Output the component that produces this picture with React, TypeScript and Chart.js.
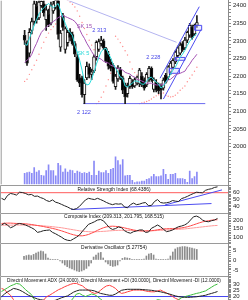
import React, { useEffect, useRef } from 'react';
import { Chart, registerables } from 'chart.js';

Chart.register(...registerables);

const FONT = '"Liberation Sans", Arial, sans-serif';

// ---------------- data ----------------
const openP = [2316,2295,2265,2330,2355,2398,2365,2400,2405,2360, 2375,2350,2385,2395,2420,2282,2372,2276,2295,2325, 2318,2292,2254,2195,2195,2147,2195,2225,2205,2215, 2255,2276,2292,2300,2278,2262,2240,2230,2170,2192, 2218,2195,2175,2150,2170,2182,2172,2180,2178,2200, 2190,2175,2195,2222,2162,2182,2175,2170,2166,2203, 2197,2212,2225,2240,2258,2265,2292,2280,2302,2316, 2340,2320,2344];
const highP = [2330,2300,2335,2365,2420,2412,2420,2425,2420,2402, 2390,2410,2412,2425,2430,2330,2378,2340,2330,2335, 2325,2298,2262,2205,2200,2190,2240,2235,2220,2260, 2300,2305,2313,2305,2282,2270,2248,2235,2205,2230, 2225,2200,2180,2180,2200,2190,2195,2200,2222,2210, 2195,2210,2228,2226,2195,2190,2180,2178,2195,2208, 2230,2242,2250,2272,2285,2295,2298,2310,2328,2350, 2345,2348,2372];
const lowP = [2290,2230,2255,2320,2345,2350,2360,2395,2370,2330, 2340,2345,2378,2390,2305,2270,2330,2265,2285,2300, 2288,2255,2185,2170,2140,2122,2190,2195,2190,2210, 2245,2270,2285,2275,2238,2220,2215,2180,2162,2185, 2190,2150,2122,2140,2165,2165,2168,2175,2170,2170, 2160,2170,2185,2185,2155,2155,2150,2135,2160,2180, 2190,2205,2220,2235,2252,2260,2270,2275,2295,2310, 2305,2315,2338];
const closeP = [2302,2237,2324,2355,2405,2360,2410,2412,2380,2388, 2345,2400,2405,2415,2318,2322,2338,2335,2324,2310, 2292,2262,2189,2180,2147,2180,2228,2205,2212,2255, 2296,2298,2302,2280,2242,2228,2222,2185,2200,2222, 2196,2160,2141,2172,2194,2170,2190,2197,2217,2175, 2166,2205,2222,2189,2189,2160,2158,2161,2189,2183, 2226,2237,2245,2268,2280,2288,2275,2302,2324,2344, 2310,2344,2352];
const volumeK = [46,49,51,46,70,51,58,38,35,58, 82,58,58,35,88,79,51,65,51,60, 58,46,55,51,46,49,46,51,38,97, 38,55,49,49,58,46,63,67,115,100, 82,104,35,38,38,17,7,10,10,14, 14,21,24,32,42,32,32,35,63,42, 21,42,42,46,24,24,24,21,8,55, 24,32,51];
const sk5 = [2293,2287,2307,2327,2344,2360,2377,2386,2394,2400, 2406,2400,2394,2400,2406,2386,2366,2349,2332,2324, 2315,2287,2268,2245,2217,2183,2175,2177,2191,2211, 2234,2253,2270,2276,2279,2265,2251,2234,2222,2211, 2197,2194,2172,2169,2175,2180,2186,2186,2183,2177, 2177,2186,2194,2197,2189,2183,2177,2166,2172,2183, 2194,2206,2217,2225,2239,2253,2262,2273,2287,2299, 2307,2315,2321];
const sk15 = [2239,2245,2251,2262,2279,2293,2310,2324,2332,2338, 2344,2349,2355,2360,2366,2369,2372,2369,2366,2363, 2360,2355,2346,2332,2318,2307,2293,2282,2270,2259, 2253,2251,2248,2242,2239,2237,2231,2228,2225,2222, 2220,2217,2211,2208,2206,2200,2197,2191,2189,2186, 2183,2180,2180,2180,2177,2175,2175,2175,2177,2183, 2189,2191,2197,2203,2206,2208,2211,2214,2225,2234, 2245,2253,2262];
const sar = [2185,2191,2205,2218,2231,2245,2262,2280,2296,2310, 2322,2332,2340,2348,2440,2435,2430,2422,2415,2410, 2404,2396,2385,2370,2352,2335,2318,2302,2288,2275, 2122,2128,2140,2155,2172,2190,2208,2235,2313,2305, 2295,2284,2272,2260,2240,2220,2210,2203,2122,2124, 2126,2128,2131,2135,2140,2144,2147,2150,2152,2145, 2143,2141,2142,2146,2152,2160,2166,2172,2184,2194, 2203,2214,2225];

const rsi = [52,49.7,56,58.9,58,56.6,60.7,60.2,58.9,57, 57.5,54.8,55.2,53,51.6,48.8,47.4,49.7,46.5,45.2, 43.3,41.4,39.6,37.3,36,37.3,40.5,45.2,49.7,52, 51,50.2,52,50.2,48.3,46,44.2,42.9,44.2,43.7, 44.2,39.6,38.4,42.9,45.2,42.9,43.7,45.2,46,41.4, 41.9,47.4,50.2,46,45.2,45.6,46.5,48.8,47.9,47.4, 51.5,53,54.8,57,58.9,60.7,60.2,59.8,63.4,64.8, 65.7,67.5,68.4];
const rsiLevel = 60;
const rsiTrendAX = [23.2, 70];
const rsiTrendAY = [36, 44.5];
const rsiTrendBX = [54.5, 73.5];
const rsiTrendBY = [42.5, 64];

const composite = [171,181,170,155,162,175,180,176,171,163, 155,145,128,132,138,140,142,128,120,110, 100,88,82,80,90,100,113,135,155,175, 182,190,200,203,195,175,155,145,150,160, 155,138,128,123,132,136,142,142,128,130, 152,161,171,161,146,132,136,142,152,161, 165,171,181,200,219,223,215,200,192,190, 196,200,209.313];
const compFast = [180,181,182,182,181,180,180,179,178,176, 174,171,168,165,162,158,155,151,147,142, 137,131,125,119,114,110,108,108,111,116, 123,131,140,148,155,160,163,164,163,161, 158,154,150,146,142,139,137,136,136,137, 138,140,143,146,148,149,150,150,151,152, 154,157,161,166,172,178,184,189,193,196, 199,201,201.795];
const compSlow = [170,170,170,170,170.5,171,171,171,171,170, 170,169,168,167,166,164,163,161,159,157, 155,152,149,146,143,140,137,135,133,132, 131,131,132,133,134,135,137,138,139,140, 140,140,140,139,139,138,138,137,137,137, 137,138,139,140,141,142,143,144,145,146, 147,148,150,152,154,156,158,160,162,164, 166,167.5,168.515];

const derivOsc = [1.8,2.2,2.5,2.2,2.8,3.5,4.0,4.5,4.2,3.0, 1.0,0.4,0.2,0.2,0.2,-0.5,-1.5,-2.5,-3.3,-4.0, -4.5,-5.0,-5.5,-5.8,-5.5,-5.0,-4.2,-3.0,-1.5,1.5, 2.5,3.5,3.8,1.0,-1.0,-2.0,-2.8,-3.2,-3.0,-2.5, -0.5,0.8,1.2,1.0,0.8,0.2,0.2,0.2,0.3,0.3, 0.5,2.0,3.0,3.3,2.5,0.5,0.2,0.2,0.2,0.3, 0.5,2.0,4.0,5.5,6.2,6.5,6.7,6.7,6.5,6.2, 6.0,5.6,5.27754];

const adx = [19.8,22,23.8,25,26.5,26,25.2,24,22.5,21, 20,19,18,17.5,17,16.5,16,16.5,17,18, 19,19.8,20.5,22,23.5,24.5,25.2,25.2,25.2,25.2, 25,24.5,23.5,22.5,22,21.5,21,21,22,23.5, 25,25.5,25.8,25.8,25.8,25.8,25.8,25.6,25.4,25.2, 25,24.6,24.2,23.8,23.2,22.6,22,21.2,20.5,19.9, 19.6,19.4,19.3,19.4,19.6,19.8,20.2,20.6,21,21.8, 22.5,23.2,24];
const plusDI = [24,25.5,27,28.5,29.5,30.5,30,28,25.5,23.5, 21.5,17.5,15,13,12,11,10,10,10,10, 10,10,11,16,19,22,22.5,21,20,21, 22,21.5,20,18,16,14,13,12,12,13, 13,12,11,12,13,14,15,15.5,16,15.5, 15,16,17.5,17,16,15,15,15.5,16,17.5, 19,19.8,20.5,21.1,21.8,22.5,23,23.8,24.5,26, 27.5,29,30];
const minusDI = [26.5,25.5,23,21,17.5,15,13,12,11,11, 12,13,14,15,17,19.8,21,22.5,24,25.5, 26.5,27.8,28.8,29.8,30.5,30.5,29.5,28.5,26.5,25, 23.5,22.5,23,25,27,28.5,29,28,26.5,24, 22.5,23,23.8,24.5,25.2,25.2,25.2,25,24.5,24, 23.8,23.8,24.5,25.2,24,22.9,21.5,20,18.5,17.5, 16.5,15.5,14.5,14,13.5,13,12.5,12,12,12, 12,12,12];
const dmiLevel = 20;

// trend lines / boxes (index, price)
const downTrendX = [12, 63.5];
const downTrendY = [2431, 2296];
const chanUpX = [56.6, 73];
const chanUpY = [2194, 2397];
const chanLoX = [58, 73.7];
const chanLoY = [2135, 2332];
const supportX = [24.5, 75.5];
const supportY = [2122, 2122];
const boxX0 = [60.5, 63, 71.2];
const boxX1 = [64.7, 67, 74];
const boxLo = [2208, 2245, 2330];
const boxHi = [2222, 2253, 2344];

const noteText = ['2 313', '2 122', '2 228', 'SK 15', 'SK 5'];
const noteX = [31.2, 24.8, 53.8, 25, 24.5];
const noteY = [2330, 2098, 2253, 2341, 2265];
const noteColor = ['#4848e8', '#4848e8', '#4848e8', '#9c4cae', '#26d8d8'];

const priceLabels = [2000, 2050, 2100, 2150, 2200, 2250, 2300, 2350, 2400];
const volumeLabels = [50000];
const rsiLabels = [40, 50, 60];
const compLabels = [100, 150, 200];
const derivLabels = [-5, 0, 5];
const dmiLabels = [20, 25, 30];

const N_SLOTS = 76;
const X_MIN = -0.5;
const X_MAX = N_SLOTS - 0.5;

// ---------------- helpers ----------------
const range = (a: number, b: number, s: number) => {
  const r: number[] = [];
  for (let v = a; v <= b + 1e-9; v += s) r.push(Math.round(v * 1000) / 1000);
  return r;
};
const pts = (arr: number[]) => arr.map((v, i) => ({ x: i, y: v }));
const seg = (xs: number[], ys: number[]) => xs.map((x, k) => ({ x, y: ys[k] }));

const yScale = (min: number, max: number, tickVals: number[], labels: number[], weight = 1): any => ({
  type: 'linear',
  position: 'right',
  min,
  max,
  weight,
  afterBuildTicks: (s: any) => { s.ticks = tickVals.map((v) => ({ value: v })); },
  afterFit: (s: any) => { s.width = 20; s.paddingTop = 0; s.paddingBottom = 0; },
  ticks: {
    autoSkip: false,
    padding: 2,
    color: '#222',
    font: { size: 6, family: FONT },
    maxRotation: 0,
    callback: (v: number) => (labels.indexOf(v) >= 0 ? String(v) : ''),
  },
  grid: { drawOnChartArea: false, tickLength: 3, color: '#8a8a8a' },
  border: { color: '#8a8a8a' },
});

const line = (data: any[], color: string, extra: any = {}) => ({
  type: 'line',
  data,
  borderColor: color,
  borderWidth: 1,
  pointRadius: 0,
  pointHoverRadius: 0,
  tension: 0,
  fill: false,
  yAxisID: 'y',
  ...extra,
});

const decor = (title: string, titleOffset: number, drawTop: boolean, notes?: boolean, titleSize = 4.9) => ({
  id: 'decor',
  afterDatasetsDraw(chart: any) {
    const { ctx, chartArea: a } = chart;
    ctx.save();
    ctx.strokeStyle = '#9a9a9a';
    ctx.lineWidth = 1;
    ctx.beginPath();
    ctx.moveTo(a.left + 0.5, a.bottom);
    ctx.lineTo(a.left + 0.5, a.top + (drawTop ? 0.5 : 0));
    if (drawTop) ctx.lineTo(a.right, a.top + 0.5);
    ctx.stroke();
    ctx.textAlign = 'center';
    ctx.textBaseline = 'middle';
    if (title) {
      ctx.font = `${titleSize}px ${FONT}`;
      ctx.fillStyle = '#111';
      ctx.fillText(title, (a.left + a.right) / 2, a.top + titleOffset);
    }
    if (notes) {
      const xs = chart.scales.x;
      const ys = chart.scales.y;
      ctx.font = `5.6px ${FONT}`;
      noteText.forEach((t, k) => {
        ctx.fillStyle = noteColor[k];
        ctx.fillText(t, xs.getPixelForValue(noteX[k]), ys.getPixelForValue(noteY[k]));
      });
    }
    ctx.restore();
  },
});

const baseOptions = (yScales: any) => ({
  responsive: false,
  animation: false as const,
  events: [] as any[],
  layout: { padding: 0 },
  plugins: { legend: { display: false }, tooltip: { enabled: false }, title: { display: false } },
  scales: {
    x: { type: 'linear', min: X_MIN, max: X_MAX, display: false },
    ...yScales,
  },
});

function mainConfig(): any {
  const bodies = openP.map((o, i) => ({ x: i, y: [o, closeP[i]] }));
  const wicks = lowP.map((l, i) => ({ x: i, y: [l, highP[i]] }));
  const bodyColors = openP.map((o, i) => (closeP[i] >= o ? '#ffffff' : '#000000'));
  const boxes = boxX0.map((x0, k) =>
    line(
      seg([x0, boxX1[k], boxX1[k], x0, x0], [boxLo[k], boxLo[k], boxHi[k], boxHi[k], boxLo[k]]),
      '#4c4cf0',
      { fill: 'shape', backgroundColor: 'rgba(215,215,255,0.45)', order: 4 }
    )
  );
  return {
    type: 'bar',
    data: {
      datasets: [
        line(pts(sk5), '#2adede', { order: 1 }),
        line(pts(sk15), '#a452b4', { order: 2 }),
        line(seg(chanUpX, chanUpY), '#4c4cf0', { order: 3 }),
        line(seg(chanLoX, chanLoY), '#4c4cf0', { order: 3 }),
        ...boxes,
        {
          type: 'bar', data: bodies, yAxisID: 'y', backgroundColor: bodyColors, borderColor: '#1a1a1a',
          borderWidth: 1, borderSkipped: false, barThickness: 3, grouped: false, order: 5,
        },
        { type: 'bar', data: wicks, yAxisID: 'y', backgroundColor: '#1a1a1a', barThickness: 1, grouped: false, order: 6 },
        line(seg(downTrendX, downTrendY), '#b4b4f0', { order: 7 }),
        line(seg(supportX, supportY), '#6a6af0', { order: 8 }),
        line(pts(sar), '#ff8c8c', {
          showLine: false, pointRadius: 0.7, pointBackgroundColor: '#ff8c8c', pointBorderWidth: 0, order: 9,
        }),
        {
          type: 'bar', data: pts(volumeK.map((v) => v * 1000)), yAxisID: 'yv', backgroundColor: '#8a8af6',
          barThickness: 1, grouped: false, order: 10,
        },
      ],
    },
    options: baseOptions({
      y: yScale(1893, 2414, range(1900, 2410, 10), priceLabels, 1),
      yv: {
        ...yScale(0, 770000, volumeLabels, volumeLabels, 0),
        afterFit: (s: any) => { s.width = 0; s.paddingTop = 0; s.paddingBottom = 0; },
      },
    }),
    plugins: [decor('', 0, false, true)],
  };
}

function rsiConfig(): any {
  return {
    type: 'line',
    data: {
      datasets: [
        line(pts(rsi), '#222', { order: 1 }),
        line(seg(rsiTrendAX, rsiTrendAY), '#4c4cf0', { order: 2 }),
        line(seg(rsiTrendBX, rsiTrendBY), '#4c4cf0', { order: 2 }),
        line(seg([X_MIN, X_MAX], [rsiLevel, rsiLevel]), '#ff5a5a', { order: 3 }),
      ],
    },
    options: baseOptions({ y: yScale(31, 71, range(32, 70, 2), rsiLabels) }),
    plugins: [decor('Relative Strength Index (68.4386)', 4.5, true)],
  };
}

function compConfig(): any {
  return {
    type: 'line',
    data: {
      datasets: [
        line(pts(composite), '#222', { order: 1 }),
        line(pts(compFast), '#ff4a4a', { order: 2 }),
        line(pts(compSlow), '#ff9a9a', { order: 3 }),
      ],
    },
    options: baseOptions({ y: yScale(66, 241, range(70, 240, 10), compLabels) }),
    plugins: [decor('Composite Index (209.313, 201.795, 168.515)', 4, true)],
  };
}

function derivConfig(): any {
  return {
    type: 'bar',
    data: {
      datasets: [
        { type: 'bar', data: pts(derivOsc), yAxisID: 'y', backgroundColor: '#8c8c8c', barThickness: 1, grouped: false },
      ],
    },
    options: baseOptions({ y: yScale(-8, 8.5, range(-8, 8, 1), derivLabels) }),
    plugins: [decor('Derivative Oscillator (5.27754)', 5, true)],
  };
}

function dmiConfig(): any {
  return {
    type: 'line',
    data: {
      datasets: [
        line(pts(adx), '#222', { order: 1 }),
        line(pts(plusDI), '#3cbc3c', { order: 2 }),
        line(pts(minusDI), '#ff4040', { order: 3 }),
        line(seg([X_MIN, X_MAX], [dmiLevel, dmiLevel]), '#4646f0', { order: 4 }),
      ],
    },
    options: baseOptions({ y: yScale(17.2, 36.5, range(18, 36, 1), dmiLabels) }),
    plugins: [
      decor('Directnl Movement ADX (24.0000), Directnl Movement +DI (30.0000), Directnl Movement -DI (12.0000)', 5, true, false, 4.7),
    ],
  };
}

const PANELS = [
  { h: 185, cfg: mainConfig },
  { h: 28, cfg: rsiConfig },
  { h: 30, cfg: compConfig },
  { h: 33, cfg: derivConfig },
  { h: 24, cfg: dmiConfig },
];

export default function App() {
  const refs = useRef<(HTMLCanvasElement | null)[]>([]);
  useEffect(() => {
    document.body.style.margin = '0';
    Chart.defaults.font.family = FONT;
    Chart.defaults.font.size = 6;
    const charts = PANELS.map((p, k) => new Chart(refs.current[k] as HTMLCanvasElement, p.cfg()));
    return () => charts.forEach((c) => c.destroy());
  }, []);
  return (
    <div style={{ width: 248, height: 300, background: '#fff', overflow: 'hidden' }}>
      {PANELS.map((p, k) => (
        <canvas
          key={k}
          ref={(el) => { refs.current[k] = el; }}
          width={248}
          height={p.h}
          style={{ display: 'block', width: 248, height: p.h }}
        />
      ))}
    </div>
  );
}
